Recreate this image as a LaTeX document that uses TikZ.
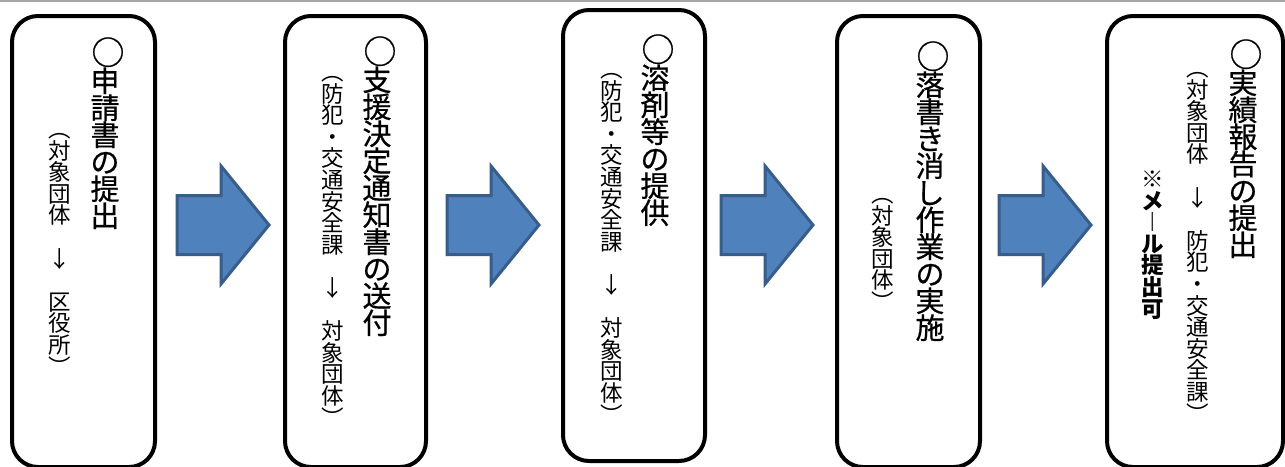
\documentclass[tikz,border=0pt]{standalone}
\usepackage{fontspec}
\setmainfont{Noto Sans CJK JP}
\newfontfamily\ttlfont[BoldFont={Noto Sans CJK JP}, BoldFeatures={FakeBold=0.6}]{Noto Sans CJK JP}
\definecolor{arrowfill}{HTML}{4F81BD}
\definecolor{arrowdraw}{HTML}{385D8A}
\definecolor{rulegray}{HTML}{A6A6A6}
\newcommand\maru{{\fontsize{33}{33}\selectfont\kern6pt ○}}
\ExplSyntaxOn
\NewDocumentCommand\tatetext{m m}{
  \dim_set:Nn \l_tmpa_dim { (#1)/2 + 0.38em }
  \dim_set:Nn \l_tmpb_dim { (#1)/2 - 0.38em }
  \vbox{\offinterlineskip
    \tl_map_inline:nn {#2}{
      \hbox_to_wd:nn {#1} {\hss\smash{##1}\hss\vrule~height~\l_tmpa_dim~depth~\l_tmpb_dim~width~0pt}
    }
  }
}
\ExplSyntaxOff
\begin{document}
\begin{tikzpicture}[x=1pt,y=1pt,
  stepbox/.style={draw=black, line width=4pt, rounded corners=26pt, inner sep=0pt},
  ttl/.style={font=\ttlfont\bfseries\fontsize{29}{29}\selectfont, inner sep=0pt, anchor=north},
  subt/.style={font=\fontsize{22.5}{22.5}\selectfont, inner sep=0pt, anchor=north},
  notet/.style={font=\bfseries\fontsize{22.5}{22.5}\selectfont, inner sep=0pt, anchor=north},
  flow/.style={fill=arrowfill, draw=arrowdraw, line width=3pt, line join=miter},
  flowarrow/.pic={\draw[flow] (0,29.5) -- (44,29.5) -- (44,59) -- (92,0) -- (44,-59) -- (44,-29.5) -- (0,-29.5) -- cycle;}
]
\useasboundingbox (0,0) rectangle (1285,-466);
\fill[white] (0,0) rectangle (1285,-466);
\draw[rulegray, line width=1.5pt] (0,-1) -- (1285,-1);

% boxes
\node[stepbox, minimum width=143, minimum height=451] (b1) at (83.5,-241.5) {};
\node[stepbox, minimum width=141, minimum height=451] (b2) at (355.5,-241.5) {};
\node[stepbox, minimum width=142, minimum height=451] (b3) at (634,-235.5) {};
\node[stepbox, minimum width=143, minimum height=451] (b4) at (908.5,-241.5) {};
\node[stepbox, minimum width=176, minimum height=451] (b5) at (1195,-241.5) {};

% arrows
\pic (a1) at (177,-225) {flowarrow};
\pic (a2) at (447,-225) {flowarrow};
\pic (a3) at (721,-225) {flowarrow};
\pic (a4) at (999,-225) {flowarrow};

% texts
\node[ttl] (t1) at (105,-40) {\tatetext{27pt}{\maru 申請書の提出}};
\node[subt] (s1) at (60,-118) {\tatetext{21.6pt}{︵対象団体　↓　区役所︶}};

\node[ttl] (t2) at (377,-39) {\tatetext{27pt}{\maru 支援決定通知書の送付}};
\node[subt] (s2) at (333,-61) {\tatetext{21.6pt}{︵防犯・交通安全課　↓　対象団体︶}};

\node[ttl] (t3) at (655,-37) {\tatetext{27pt}{\maru 溶剤等の提供}};
\node[subt] (s3) at (612,-58) {\tatetext{21.6pt}{︵防犯・交通安全課　↓　対象団体︶}};

\node[ttl] (t4) at (930,-44) {\tatetext{27pt}{\maru 落書き消し作業の実施}};
\node[subt] (s4) at (883,-183) {\tatetext{21.6pt}{︵対象団体︶}};

\node[ttl] (t5) at (1243,-42) {\tatetext{27pt}{\maru 実績報告の提出}};
\node[subt] (s5) at (1198,-57) {\tatetext{21.6pt}{︵対象団体　↓　防犯・交通安全課︶}};
\node[notet] (n5) at (1153,-168) {\tatetext{21.6pt}{※メ︱ル提出可}};
\end{tikzpicture}
\end{document}
